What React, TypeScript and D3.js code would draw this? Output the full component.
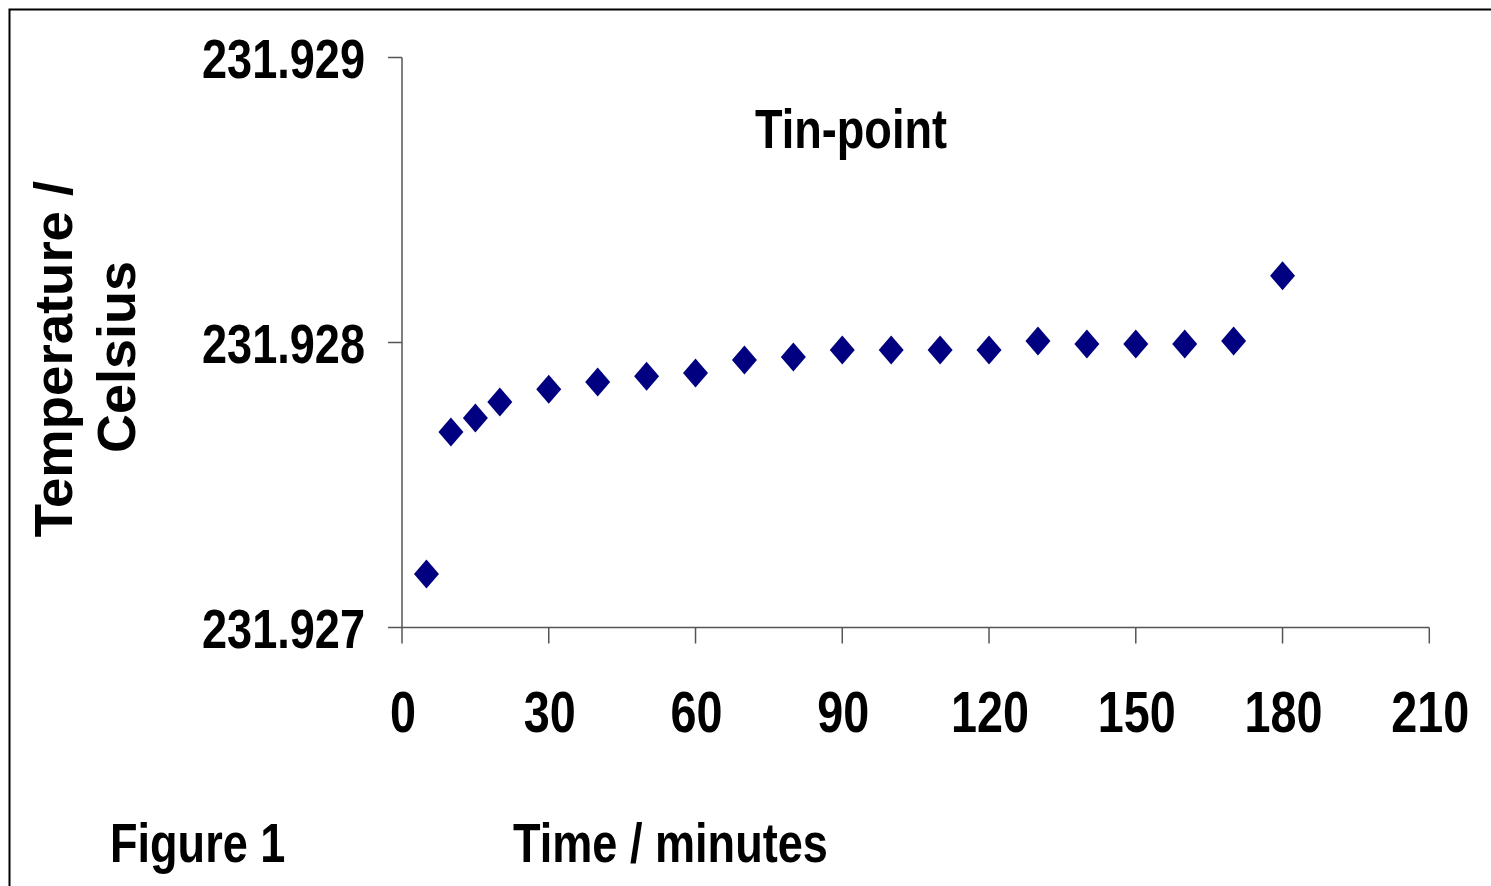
import React from "react";
import * as d3 from "d3";

const times = [5, 10, 15, 20, 30, 40, 50, 60, 70, 80, 90, 100, 110, 120, 130, 140, 150, 160, 170, 180];
const temps = [
  231.927188, 231.927686, 231.927735, 231.927791, 231.927836, 231.927861, 231.927882, 231.927893,
  231.927939, 231.927949, 231.927974, 231.927974, 231.927974, 231.927974, 231.928005, 231.927995,
  231.927995, 231.927995, 231.928005, 231.928234,
];
const xTicks = [0, 30, 60, 90, 120, 150, 180, 210];
const yTicks = [231.927, 231.928, 231.929];

const FONT = "'Liberation Sans', Arial, Helvetica, sans-serif";
const SQ = 0.82;
const FS = 55;

export default function App() {
  const x = d3.scaleLinear().domain([0, 210]).range([402, 1429.3]);
  const y = d3.scaleLinear().domain([231.927, 231.929]).range([627.5, 57.5]);
  const axisColor = "#555";
  const diamond = (cx: number, cy: number) =>
    `M${cx},${cy - 14.5}L${cx + 12.5},${cy}L${cx},${cy + 14.5}L${cx - 12.5},${cy}Z`;

  const sqText = (tx: number, ty: number, s: string, anchor: string, fs: number = FS) => (
    <text
      transform={`translate(${tx},${ty}) scale(${SQ},1)`}
      textAnchor={anchor as any}
      fontFamily={FONT}
      fontWeight="bold"
      fontSize={fs}
      fill="#000"
    >
      {s}
    </text>
  );

  return (
    <svg
      width={1491}
      height={886}
      style={{ position: "absolute", left: 0, top: 0, background: "#fff" }}
    >
      <rect x={0} y={0} width={1491} height={886} fill="#fff" />
      <rect x={9.5} y={9.5} width={1600} height={1000} fill="none" stroke="#000" strokeWidth={2} />

      {/* axes */}
      <line x1={x(0)} x2={x(0)} y1={y(231.929)} y2={y(231.927)} stroke={axisColor} strokeWidth={1.5} />
      <line x1={x(0)} x2={x(210)} y1={y(231.927)} y2={y(231.927)} stroke={axisColor} strokeWidth={1.5} />
      {yTicks.map((t) => (
        <g key={"y" + t}>
          <line x1={x(0) - 14} x2={x(0)} y1={y(t)} y2={y(t)} stroke={axisColor} strokeWidth={1.5} />
          {sqText(365, y(t) + 20, d3.format(".3f")(t), "end")}
        </g>
      ))}
      {xTicks.map((t) => (
        <g key={"x" + t}>
          <line x1={x(t)} x2={x(t)} y1={y(231.927)} y2={y(231.927) + 16} stroke={axisColor} strokeWidth={1.5} />
          {sqText(x(t) + 1, 732, String(t), "middle", 57)}
        </g>
      ))}

      {/* points */}
      {times.map((t, i) => (
        <path key={i} d={diamond(x(t), y(temps[i]))} fill="#000080" />
      ))}

      {/* titles */}
      {sqText(851, 148, "Tin-point", "middle")}
      {sqText(110, 862, "Figure 1", "start")}
      {sqText(513, 862, "Time / minutes", "start")}

      <g transform="translate(72,359) rotate(-90)">
        <text textAnchor="middle" fontFamily={FONT} fontWeight="bold" fontSize={54.5} fill="#000">
          Temperature /
        </text>
      </g>
      <g transform="translate(135,357) rotate(-90)">
        <text textAnchor="middle" fontFamily={FONT} fontWeight="bold" fontSize={54} fill="#000">
          Celsius
        </text>
      </g>
    </svg>
  );
}
